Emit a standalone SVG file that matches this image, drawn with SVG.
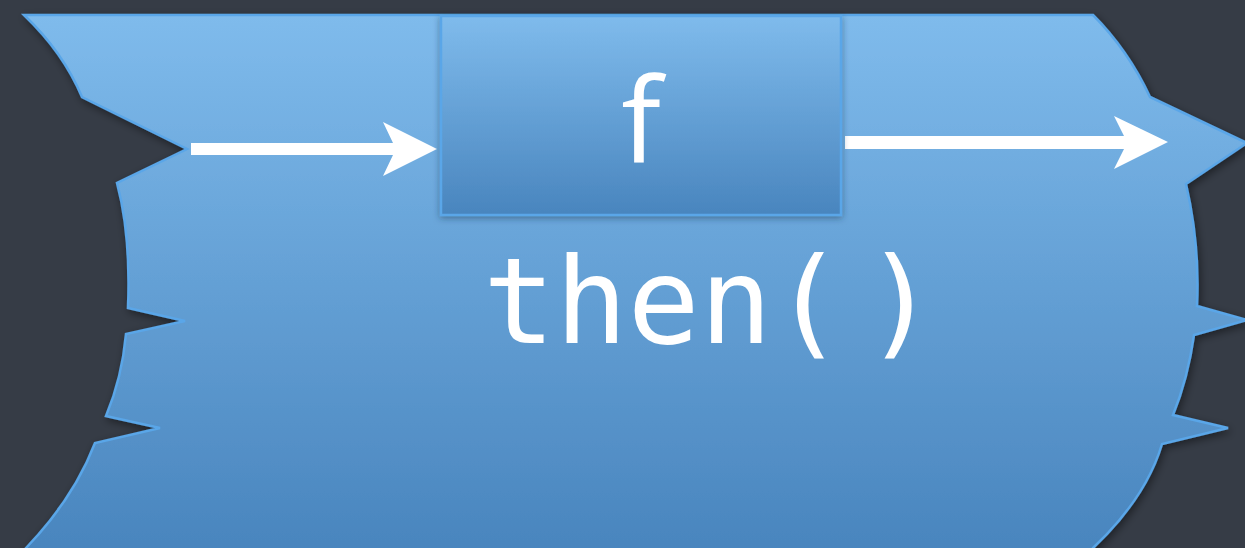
<svg xmlns="http://www.w3.org/2000/svg" width="1245" height="548" viewBox="0 0 1245 548">
  <defs>
    <linearGradient id="gBig" x1="0" y1="0" x2="0" y2="1">
      <stop offset="0" stop-color="#7fbbec"/>
      <stop offset="1" stop-color="#4884bd"/>
    </linearGradient>
    <linearGradient id="gBox" x1="0" y1="0" x2="0" y2="1">
      <stop offset="0" stop-color="#7fbbec"/>
      <stop offset="1" stop-color="#4985be"/>
    </linearGradient>
    <filter id="sh" x="-10%" y="-10%" width="120%" height="130%">
      <feDropShadow dx="2" dy="3" stdDeviation="4" flood-color="#000" flood-opacity="0.45"/>
    </filter>
    <filter id="shBox" x="-10%" y="-10%" width="120%" height="130%">
      <feDropShadow dx="0" dy="2" stdDeviation="3" flood-color="#1d3550" flood-opacity="0.5"/>
    </filter>
  </defs>
  <style>
    .outline { stroke: #5aa6e8; stroke-width: 2.5; }
    .lbl { fill: #ffffff; }
    .arrow { fill: #ffffff; }
  </style>
  <rect width="1245" height="548" fill="#363c46"/>
  <g id="promise">
    <path class="outline" fill="url(#gBig)" filter="url(#sh)" d="M 24,15 L 1093,15 Q 1128,50 1150,97 L 1247,143 L 1186,184 Q 1200,245 1197,306 L 1247,320 L 1194,335 Q 1188,378 1173,415 L 1228,428 L 1162,444 Q 1146,498 1093,548 L 1085,560 L 18,560 L 26,548 Q 74,498 95,443 L 160,428 L 106,416 Q 122,378 126,334 L 185,321 L 128,308 Q 131,235 117,183 L 187,149 L 82,97 Q 63,52 24,15 Z"/>
    <text class="lbl" x="483" y="343" font-family="DejaVu Sans Mono, monospace" font-size="120">then(<tspan dx="20">)</tspan></text>
  </g>
  <g id="connectors">
    <path class="arrow" d="M 191,143 L 393,143 L 383,122 L 437,149 L 383,176 L 393,155 L 191,155 Z"/>
    <path class="arrow" d="M 845,136 L 1124,136 L 1114,116 L 1168,142 L 1114,169 L 1124,149 L 845,149 Z"/>
  </g>
  <g id="f">
    <rect class="outline" x="441" y="16" width="400" height="199" fill="url(#gBox)" filter="url(#shBox)"/>
    <text class="lbl" x="641" y="162" text-anchor="middle" font-family="Open Sans, sans-serif" font-size="118">f</text>
  </g>
</svg>
